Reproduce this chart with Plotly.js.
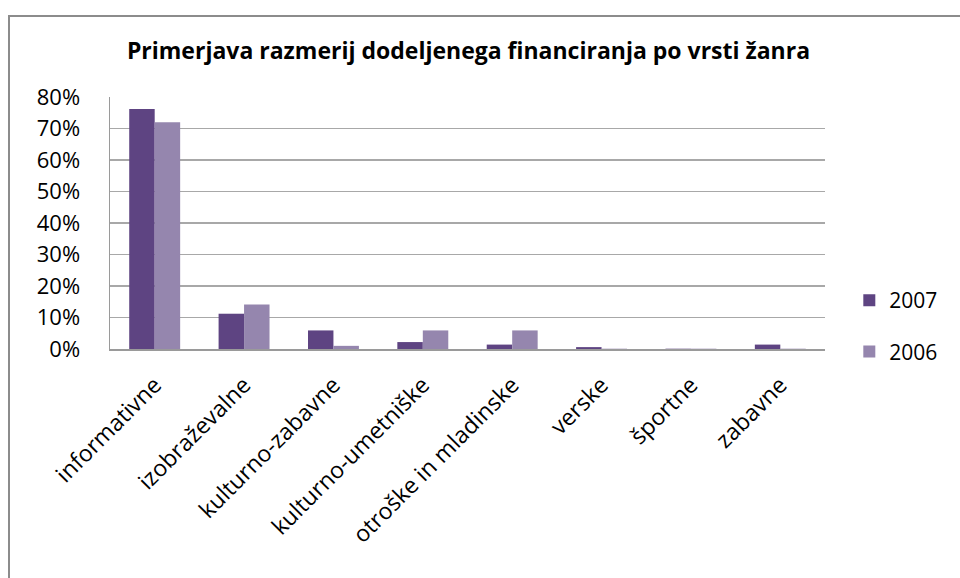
<!DOCTYPE html>
<html>
<head>
<meta charset="utf-8">
<script src="https://cdn.plot.ly/plotly-3.0.1.min.js"></script>
<style>
  html, body { margin: 0; padding: 0; background: #fff; overflow: hidden; }
  #frame { position: absolute; left: 8px; top: 15px; width: 1100px; height: 800px; border: 2px solid #8c8c8c; box-sizing: border-box; }
  #chart { position: absolute; left: 0; top: 0; width: 960px; height: 578px; }
</style>
</head>
<body>
<div id="frame"></div>
<div id="chart"></div>
<script>
const categories = ["informativne", "izobraževalne", "kulturno-zabavne", "kulturno-umetniške", "otroške in mladinske", "verske", "športne", "zabavne"];
const values2007 = [0.762, 0.112, 0.059, 0.022, 0.014, 0.006, 0.001, 0.014];
const values2006 = [0.720, 0.141, 0.010, 0.059, 0.059, 0.001, 0.001, 0.001];
const seriesNames = ["2007", "2006"];
const yTickVals = [0, 0.1, 0.2, 0.3, 0.4, 0.5, 0.6, 0.7, 0.8];
const yTickText = ["0%", "10%", "20%", "30%", "40%", "50%", "60%", "70%", "80%"];

const FONT = "Open Sans, Lato, sans-serif";

const traces = [
  { type: "bar", name: seriesNames[0], x: categories, y: values2007, legend: "legend",
    marker: { color: "#5e4482", line: { width: 0 } }, hoverinfo: "x+y" },
  { type: "bar", name: seriesNames[1], x: categories, y: values2006, legend: "legend2",
    marker: { color: "#9586ae", line: { width: 0 } }, hoverinfo: "x+y" }
];

const layout = {
  width: 960, height: 578,
  margin: { l: 110, r: 135, t: 97, b: 229 },
  paper_bgcolor: "rgba(0,0,0,0)",
  plot_bgcolor: "rgba(0,0,0,0)",
  font: { family: FONT, color: "#000", size: 20 },
  title: { text: "<b>Primerjava razmerij dodeljenega financiranja po vrsti žanra</b>",
           font: { family: FONT, size: 23, color: "#000" },
           x: 0.488, xanchor: "center", y: 0.912, yanchor: "middle" },
  barmode: "group", bargap: 0.43, bargroupgap: 0,
  xaxis: { type: "category", tickangle: -45, tickfont: { size: 23, family: FONT },
           showline: true, linecolor: "#9a9a9a", linewidth: 1.5, ticks: "", showgrid: false,
           ticklabelstandoff: 12, automargin: false },
  yaxis: { range: [0, 0.8], tickvals: yTickVals, ticktext: yTickText,
           tickfont: { size: 22, family: FONT }, showline: true, linecolor: "#9a9a9a", linewidth: 1.5,
           gridcolor: "#a8a8a8", gridwidth: 1.2, zeroline: false, ticks: "", ticklabelstandoff: 24,
           automargin: false },
  legend: { x: 1.034, xanchor: "left", y: 0.192, yanchor: "middle", bgcolor: "rgba(0,0,0,0)",
            font: { size: 21, family: FONT } },
  legend2: { x: 1.034, xanchor: "left", y: -0.011, yanchor: "middle", bgcolor: "rgba(0,0,0,0)",
             font: { size: 21, family: FONT } },
  showlegend: true
};

Plotly.newPlot("chart", traces, layout, { displayModeBar: false, staticPlot: true });
</script>
</body>
</html>
